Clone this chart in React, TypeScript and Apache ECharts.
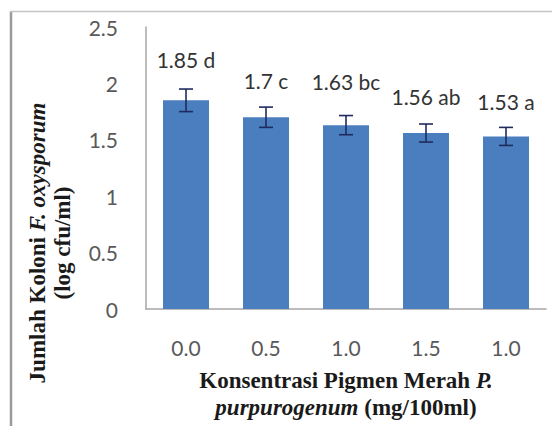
import React, { useEffect, useRef } from "react";
import * as echarts from "echarts";

const categories = ["0.0", "0.5", "1.0", "1.5", "1.0"];
const meanValues = [1.85, 1.7, 1.63, 1.56, 1.53];
const errorValues = [0.1, 0.09, 0.085, 0.08, 0.08];
const letters = ["d", "c", "bc", "ab", "a"];
const yTicks = { min: 0, max: 2.5, interval: 0.5 };

const labelDistances = [30, 26, 33, 26, 24];

export default function App() {
  const ref = useRef<HTMLDivElement>(null);
  useEffect(() => {
    document.body.style.margin = "0";
    const chart = echarts.init(ref.current!, undefined, { renderer: "svg" });
    const serif = "'Liberation Serif', 'Times New Roman', serif";
    const sans = "Lato, Calibri, 'Open Sans', sans-serif";
    const option = {
      animation: false,
      backgroundColor: "#ffffff",
      grid: { left: 146, right: 6, top: 27, bottom: 105, containLabel: false },
      xAxis: {
        type: "category",
        data: categories,
        axisLine: { show: true, lineStyle: { color: "#a6a6a6", width: 1.5 } },
        axisTick: { show: false },
        axisLabel: { color: "#595959", fontFamily: sans, fontSize: 21, margin: 28 },
        name:
          "{b|Konsentrasi Pigmen Merah }{bi|P.}\n{bi|purpurogenum}{b| (mg/100ml)}",
        nameLocation: "middle",
        nameGap: 58,
        nameTextStyle: {
          fontFamily: serif,
          fontSize: 23,
          lineHeight: 27,
          color: "#1a1a1a",
          rich: {
            b: { fontFamily: serif, fontSize: 23, fontWeight: "bold", color: "#1a1a1a", lineHeight: 27 },
            bi: { fontFamily: serif, fontSize: 23, fontWeight: "bold", fontStyle: "italic", color: "#1a1a1a", lineHeight: 27 },
          },
        },
      },
      yAxis: {
        type: "value",
        min: yTicks.min,
        max: yTicks.max,
        interval: yTicks.interval,
        splitLine: { show: false },
        axisTick: { show: false },
        axisLine: { show: true, lineStyle: { color: "#a6a6a6", width: 1.5 } },
        axisLabel: { color: "#595959", fontFamily: sans, fontSize: 21, margin: 28 },
      },
      graphic: [
        { type: "line", shape: { x1: 11, y1: 11, x2: 11, y2: 426 }, style: { stroke: "#9a9a9a", lineWidth: 2.5 }, silent: true },
        { type: "line", shape: { x1: 10, y1: 11.5, x2: 552, y2: 11.5 }, style: { stroke: "#c4c4c4", lineWidth: 1.5 }, silent: true },
        {
          type: "text",
          x: 50,
          y: 243,
          rotation: Math.PI / 2,
          style: {
            text: "{b|Jumlah Koloni }{bi|F. oxysporum}\n{b|(log cfu/ml)}",
            align: "center",
            verticalAlign: "middle",
            rich: {
              b: { fontFamily: serif, fontSize: 23, fontWeight: "bold", fill: "#1a1a1a", lineHeight: 25 },
              bi: { fontFamily: serif, fontSize: 23, fontWeight: "bold", fontStyle: "italic", fill: "#1a1a1a", lineHeight: 25 },
            },
          },
        },
      ],
      series: [
        {
          type: "bar",
          data: meanValues.map((v, i) => ({
            value: v,
            label: { distance: labelDistances[i] },
          })),
          barWidth: "57.5%",
          itemStyle: { color: "#4a7ebf" },
          label: {
            show: true,
            position: "top",
            fontFamily: sans,
            fontSize: 21,
            color: "#333333",
            formatter: (p: any) => `${meanValues[p.dataIndex]} ${letters[p.dataIndex]}`,
          },
          z: 2,
        },
        {
          type: "custom",
          z: 5,
          data: meanValues.map((v, i) => [i, v, errorValues[i]]),
          renderItem: (params: any, api: any) => {
            const x = api.value(0);
            const y = api.value(1);
            const e = api.value(2);
            const hi = api.coord([x, y + e]);
            const lo = api.coord([x, y - e]);
            const hw = 7;
            const style = { stroke: "#1f2b5e", lineWidth: 1.6 };
            return {
              type: "group",
              children: [
                { type: "line", shape: { x1: hi[0], y1: hi[1], x2: lo[0], y2: lo[1] }, style },
                { type: "line", shape: { x1: hi[0] - hw, y1: hi[1], x2: hi[0] + hw, y2: hi[1] }, style },
                { type: "line", shape: { x1: lo[0] - hw, y1: lo[1], x2: lo[0] + hw, y2: lo[1] }, style },
              ],
            };
          },
        },
      ],
    };
    chart.setOption(option as any);
    return () => chart.dispose();
  }, []);
  return <div ref={ref} style={{ width: 552, height: 426 }} />;
}
